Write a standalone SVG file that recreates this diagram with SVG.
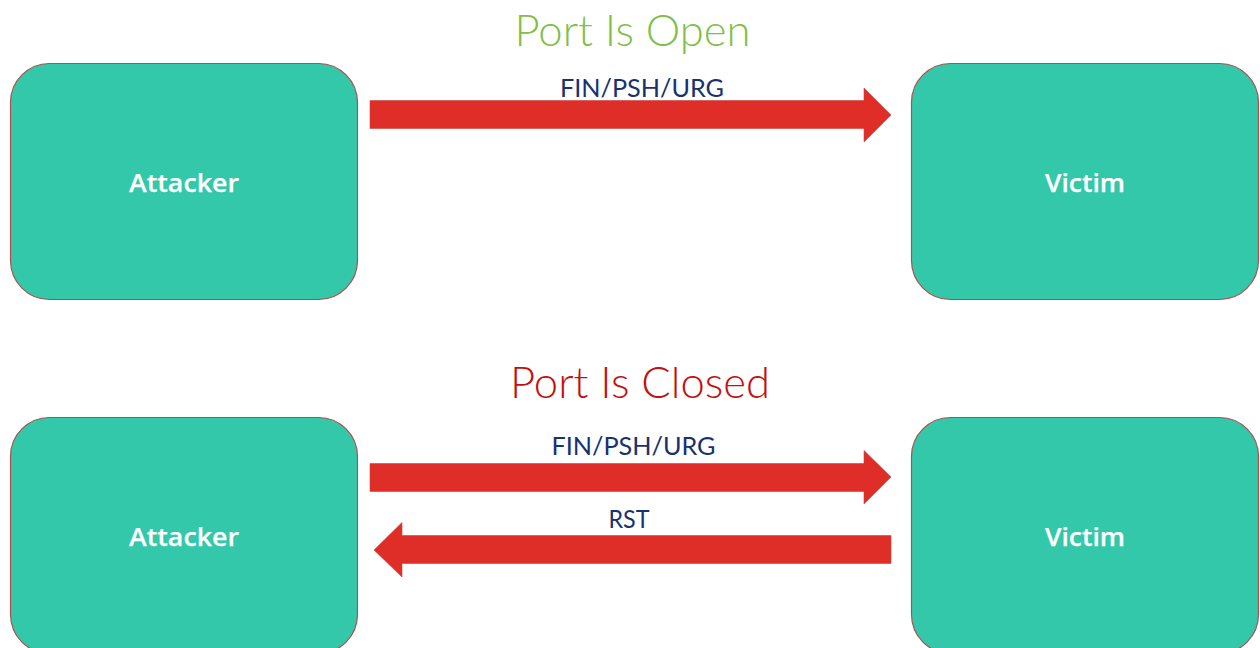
<svg xmlns="http://www.w3.org/2000/svg" width="1260" height="648" viewBox="0 0 1260 648">
<style>
.box{fill:#33c8a9;stroke:#a8524f;stroke-width:1.2}
.name{font-family:"Open Sans","Liberation Sans",sans-serif;font-weight:600;font-size:26px;fill:#fff;text-anchor:middle;stroke:#fff;stroke-width:.25}
.title{font-family:"Lato","Liberation Sans",sans-serif;font-weight:300;font-size:43px;text-anchor:middle}
.lbl{font-family:"Lato","Liberation Sans",sans-serif;font-size:25px;fill:#17326f;text-anchor:middle}
.arrow{fill:#de2e27;stroke:#c9453f;stroke-width:.6}
</style>
<rect width="1260" height="648" fill="#fff"/>
<text class="title" x="632.500" y="46" fill="#7fbf4a" textLength="236" lengthAdjust="spacingAndGlyphs">Port Is Open</text>
<text class="title" x="640" y="398" fill="#c40f0f" textLength="260" lengthAdjust="spacingAndGlyphs">Port Is Closed</text>
<g id="attacker-open"><rect class="box" x="10.500" y="63.500" width="347" height="236" rx="39"/><text class="name" x="184" y="191.500" textLength="110" lengthAdjust="spacingAndGlyphs">Attacker</text></g>
<g id="victim-open"><rect class="box" x="911.500" y="63.500" width="347" height="236" rx="39"/><text class="name" x="1085" y="191.500" textLength="80" lengthAdjust="spacingAndGlyphs">Victim</text></g>
<g id="attacker-closed"><rect class="box" x="10.500" y="417.500" width="347" height="236" rx="39"/><text class="name" x="184" y="545.500" textLength="110" lengthAdjust="spacingAndGlyphs">Attacker</text></g>
<g id="victim-closed"><rect class="box" x="911.500" y="417.500" width="347" height="236" rx="39"/><text class="name" x="1085" y="545.500" textLength="80" lengthAdjust="spacingAndGlyphs">Victim</text></g>
<g id="connectors">
<polygon class="arrow" points="370,100.500 864,100.500 864,88 891,115 864,142 864,128.500 370,128.500"/>
<polygon class="arrow" points="370,463.500 864,463.500 864,450.500 891,477 864,504 864,491.500 370,491.500"/>
<polygon class="arrow" points="891,535.500 402,535.500 402,522.500 374,550 402,577 402,563.500 891,563.500"/>
</g>
<text class="lbl" x="642" y="97" textLength="164" lengthAdjust="spacingAndGlyphs">FIN/PSH/URG</text>
<text class="lbl" x="633.500" y="455" textLength="164" lengthAdjust="spacingAndGlyphs">FIN/PSH/URG</text>
<text class="lbl" x="629" y="528" textLength="41" lengthAdjust="spacingAndGlyphs">RST</text>
</svg>
